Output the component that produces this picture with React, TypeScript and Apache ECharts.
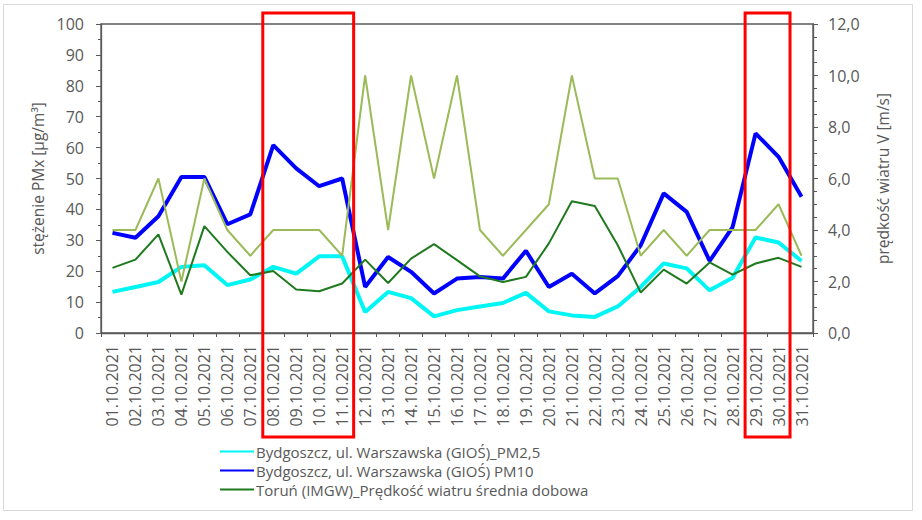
import { useRef, useEffect } from 'react';
import * as echarts from 'echarts';

// Dzienne stężenia PM i prędkość wiatru, październik 2021
const dates = [
  '01.10.2021', '02.10.2021', '03.10.2021', '04.10.2021', '05.10.2021', '06.10.2021', '07.10.2021',
  '08.10.2021', '09.10.2021', '10.10.2021', '11.10.2021', '12.10.2021', '13.10.2021', '14.10.2021',
  '15.10.2021', '16.10.2021', '17.10.2021', '18.10.2021', '19.10.2021', '20.10.2021', '21.10.2021',
  '22.10.2021', '23.10.2021', '24.10.2021', '25.10.2021', '26.10.2021', '27.10.2021', '28.10.2021',
  '29.10.2021', '30.10.2021', '31.10.2021',
];

const pm25 = [
  13.3, 14.9, 16.5, 21.4, 21.9, 15.5, 17.3, 21.4, 19.2, 24.8, 24.8, 6.8, 13.3, 11.3, 5.4, 7.4,
  8.6, 9.7, 13.0, 7.0, 5.7, 5.2, 8.6, 14.9, 22.5, 20.9, 13.8, 17.9, 30.9, 29.3, 23.3,
];

const pm10 = [
  32.4, 30.8, 37.8, 50.5, 50.5, 35.2, 38.4, 60.8, 53.3, 47.5, 50.0, 14.9, 24.6, 19.8, 12.8, 17.6,
  18.1, 17.6, 26.6, 14.9, 19.2, 12.8, 18.4, 28.4, 45.2, 39.2, 23.3, 34.3, 64.6, 57.0, 44.1,
];

const windAvg = [
  2.53, 2.85, 3.83, 1.49, 4.15, 3.15, 2.24, 2.41, 1.69, 1.62, 1.92, 2.85, 1.94, 2.89, 3.45, 2.83,
  2.2, 1.98, 2.18, 3.48, 5.12, 4.93, 3.41, 1.57, 2.46, 1.92, 2.74, 2.27, 2.7, 2.92, 2.57,
];

const windMax = [
  4, 4, 6, 2, 6, 4, 3, 4, 4, 4, 3, 10, 4, 10, 6, 10, 4, 3, 4, 5, 10, 6, 6, 3, 4, 3, 4, 4, 4, 5, 3,
];

// zaznaczone okresy (indeksy pierwszego i ostatniego dnia)
const highlights = [[7, 10], [28, 29]];

const names = [
  'Bydgoszcz, ul. Warszawska (GIOŚ)_PM2,5',
  'Bydgoszcz, ul. Warszawska (GIOŚ) PM10',
  'Toruń (IMGW)_Prędkość wiatru średnia dobowa',
  'Toruń (IMGW)_Prędkość wiatru maksymalna',
];

const FONT = 'Open Sans';
const GRAY = '#595959';

export default function App() {
  const ref = useRef<HTMLDivElement>(null);

  useEffect(() => {
    if (!ref.current) return;
    const chart = echarts.init(ref.current, undefined, { renderer: 'svg', width: 922, height: 520 });

    const axisLine = { show: true, lineStyle: { color: GRAY, width: 1.3 } };

    chart.setOption({
      animation: false,
      textStyle: { fontFamily: FONT },
      grid: {
        left: 101, right: 109, top: 24, bottom: 187,
        show: true, borderColor: GRAY, borderWidth: 1.3, backgroundColor: 'transparent',
      },
      legend: {
        data: names.slice(0, 3),
        orient: 'vertical',
        left: 214, top: 439,
        itemWidth: 34, itemHeight: 14, itemGap: 4,
        itemStyle: { opacity: 0 },
        textStyle: { color: GRAY, fontSize: 15, lineHeight: 14, fontFamily: FONT, padding: [0, 0, 0, -3] },
      },
      xAxis: {
        type: 'category',
        data: dates,
        boundaryGap: true,
        axisLine,
        axisTick: { show: true, length: 4, lineStyle: { color: GRAY } },
        axisLabel: { rotate: 90, interval: 0, color: GRAY, fontSize: 16, margin: 12, fontFamily: FONT },
        splitLine: { show: false },
      },
      yAxis: [
        {
          type: 'value', min: 0, max: 100, interval: 10,
          name: 'stężenie PMx [µg/m³]', nameLocation: 'middle', nameGap: 52,
          nameTextStyle: { color: GRAY, fontSize: 15.5, fontFamily: FONT },
          axisLine,
          axisTick: { show: true, length: 5, lineStyle: { color: GRAY } },
          minorTick: { show: true, splitNumber: 2, length: 3, lineStyle: { color: GRAY } },
          axisLabel: { color: GRAY, fontSize: 16, margin: 17, fontFamily: FONT },
          splitLine: { show: false },
        },
        {
          type: 'value', min: 0, max: 12, interval: 2, position: 'right',
          name: 'prędkość wiatru V [m/s]', nameLocation: 'middle', nameGap: 62,
          nameTextStyle: { color: GRAY, fontSize: 15.5, fontFamily: FONT },
          axisLine,
          axisTick: { show: true, length: 5, lineStyle: { color: GRAY } },
          minorTick: { show: true, splitNumber: 4, length: 4, lineStyle: { color: GRAY } },
          axisLabel: {
            color: GRAY, fontSize: 16, margin: 15, fontFamily: FONT,
            formatter: (v: number) => v.toFixed(1).replace('.', ','),
          },
          splitLine: { show: false },
        },
      ],
      series: [
        {
          name: names[0], type: 'line', data: pm25, yAxisIndex: 0,
          symbol: 'none', lineStyle: { color: '#00f5f5', width: 4 }, itemStyle: { color: '#00f5f5' },
        },
        {
          name: names[1], type: 'line', data: pm10, yAxisIndex: 0,
          symbol: 'none', lineStyle: { color: '#0000ff', width: 4 }, itemStyle: { color: '#0000ff' },
        },
        {
          name: names[3], type: 'line', data: windMax, yAxisIndex: 1,
          symbol: 'none', lineStyle: { color: '#9bbb59', width: 2 }, itemStyle: { color: '#9bbb59' },
        },
        {
          name: names[2], type: 'line', data: windAvg, yAxisIndex: 1,
          symbol: 'none', lineStyle: { color: '#1f7a1f', width: 2 }, itemStyle: { color: '#1f7a1f' },
        },
      ],
    });

    // ramki wokół zaznaczonych dni, liczone z osi kategorii
    const px = (i: number) => chart.convertToPixel({ xAxisIndex: 0 }, i) as number;
    const half = (px(1) - px(0)) / 2;
    const boxes = highlights.map(([a, b]) => {
      const x1 = px(a) - half;
      const x2 = px(b) + half;
      return {
        type: 'rect',
        shape: { x: x1 + 1, y: 13, width: x2 - x1 - 1, height: 424 },
        style: { fill: 'none', stroke: '#ff0000', lineWidth: 3 },
        z: 100,
      };
    });

    chart.setOption({
      graphic: [
        {
          type: 'rect',
          shape: { x: 3.5, y: 4.5, width: 909, height: 506 },
          style: { fill: 'none', stroke: '#d9d9d9', lineWidth: 1 },
          z: 0,
        },
        ...boxes,
      ],
    });

    return () => { chart.dispose(); };
  }, []);

  return (
    <div style={{ position: 'fixed', left: 0, top: 0, width: 922, height: 520, background: '#fff' }}>
      <div ref={ref} style={{ width: 922, height: 520 }} />
    </div>
  );
}
